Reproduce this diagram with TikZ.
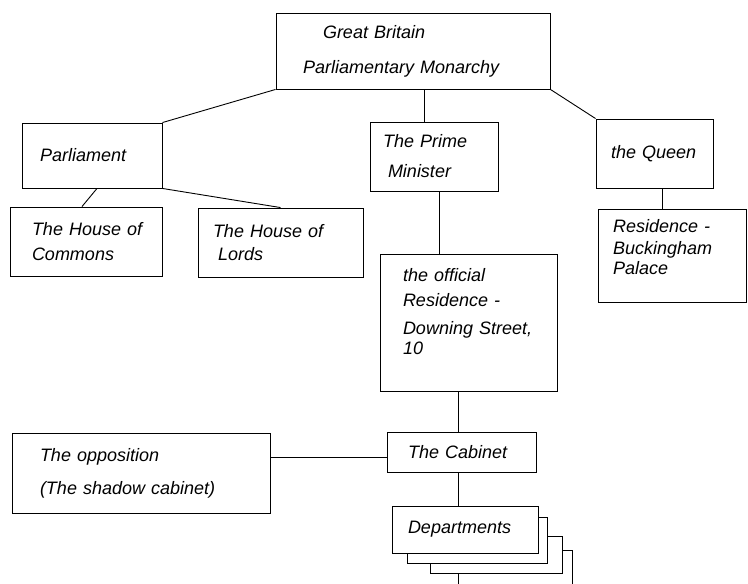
\documentclass[tikz,border=0pt]{standalone}
\usepackage{fontspec}
\setmainfont{Liberation Sans}
\newcommand\boxfont{\fontsize{18}{21}\selectfont\itshape\spaceskip=8.5pt plus 2pt\relax}
\begin{document}
\begin{tikzpicture}[x=1pt, y=-1pt,
  box/.style={draw, fill=white, line width=0.9pt, align=left, inner ysep=0pt, font=\boxfont},
  link/.style={line width=0.9pt}
]
  \useasboundingbox (0,0) rectangle (748,584);
  \clip (0,0) rectangle (748,584);

  % State
  \node[box, inner xsep=27pt, text width=220pt, minimum height=76pt] (gb) at (413,51) {\hspace*{20pt}Great Britain\\[14pt]Parliamentary Monarchy};

  % Parliament
  \node[box, inner xsep=18pt, text width=104pt, minimum height=65pt] (parl) at (92,155.5) {Parliament};
  \node[box, inner xsep=22pt, text width=108pt, minimum height=69pt] (commons) at (86,241.5) {The~House~of\\[4pt]Commons};
  \node[box, inner xsep=15pt, text width=135pt, minimum height=69pt] (lords) at (280.5,242.5) {The House of\\[2pt]\hspace*{5pt}Lords};

  % Prime Minister
  \node[box, inner xsep=13pt, text width=102pt, minimum height=69pt] (pm) at (434,156.5) {The Prime\\[9pt]\hspace*{5pt}Minister};
  \node[box, inner xsep=23pt, text width=131pt, minimum height=137pt] (dsres) at (468.5,322.5) {the official\\[4pt]Residence -\\[7pt]Downing~Street,\\[-1pt]10\\[1pt]\mbox{}};

  % Queen
  \node[box, inner xsep=15pt, text width=87pt, minimum height=69pt] (queen) at (654.5,153.5) {the~Queen};
  \node[box, inner xsep=15pt, text width=118pt, minimum height=93pt] (qres) at (672,255.5) {Residence -\\[1pt]Buckingham\\[-1pt]Palace\\[-3pt]\mbox{}};

  % Cabinet
  \node[box, inner xsep=21pt, text width=107pt, minimum height=40pt] (cabinet) at (461.5,452) {The~Cabinet};
  \node[box, inner xsep=28pt, text width=202pt, minimum height=80pt] (opp) at (141,473) {The opposition\\[12pt](The shadow cabinet)};

  % Departments (stack)
  \draw[link, fill=white] (458,550) rectangle (572,600);
  \draw[link, fill=white] (430,536) rectangle (562,573);
  \draw[link, fill=white] (407,517) rectangle (547,563);
  \node[box, inner xsep=16pt, text width=114pt, minimum height=47pt] (depts) at (465,529.5) {Departments};

  \draw[link] (gb.south west) -- (parl.north east);
  \draw[link] (gb.south east) -- (queen.north west);
  \draw[link] ([xshift=-10pt]pm.north) -- ([xshift=-10pt]pm.north |- gb.south);
  \draw[link] ([xshift=5pt]parl.south) -- ([xshift=-4pt]commons.north);
  \draw[link] (parl.south east) -- (lords.north);
  \draw[link] ([xshift=5pt]pm.south) -- ([xshift=5pt]pm.south |- dsres.north);
  \draw[link] ([xshift=-10pt]qres.north) -- ([xshift=-10pt]qres.north |- queen.south);
  \draw[link] ([xshift=-3pt]cabinet.north) -- ([xshift=-3pt]cabinet.north |- dsres.south);
  \draw[link] ([xshift=-3pt]cabinet.south) -- ([xshift=-3pt]cabinet.south |- depts.north);
  \draw[link] ([yshift=-5pt]cabinet.west) -- ([yshift=-5pt]cabinet.west -| opp.east);
\end{tikzpicture}
\end{document}
